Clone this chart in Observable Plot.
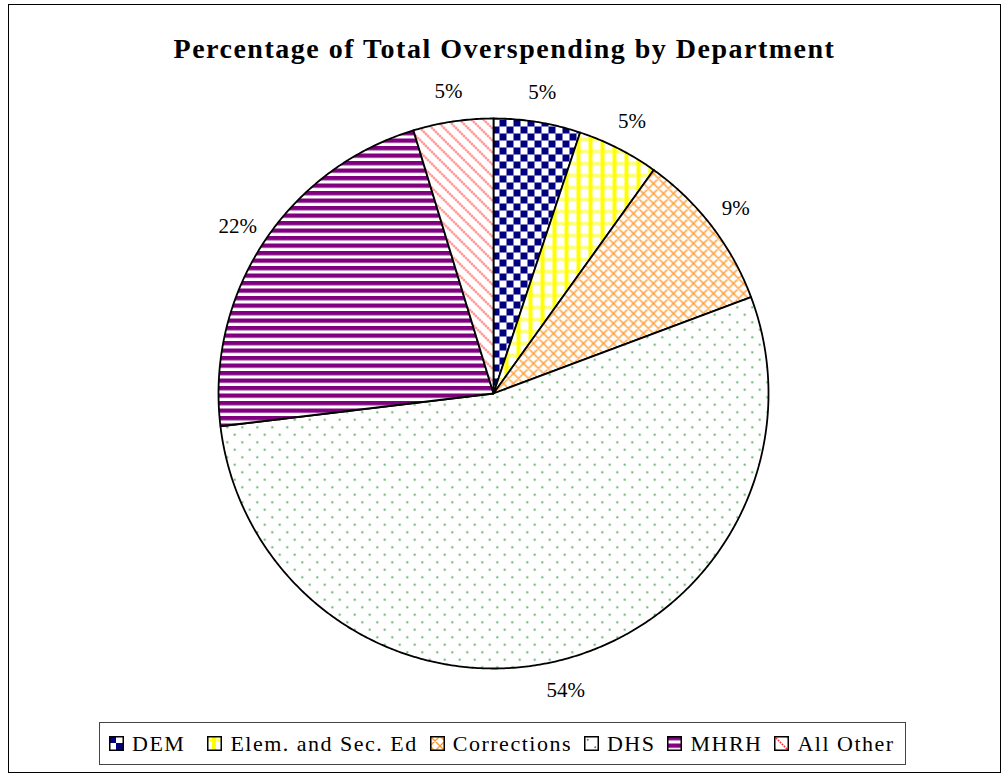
<!DOCTYPE html>
<html>
<head>
<meta charset="utf-8">
<script src="https://cdn.jsdelivr.net/npm/d3@7"></script>
<script src="https://cdn.jsdelivr.net/npm/@observablehq/plot@0.6"></script>
<style>
  html, body { margin: 0; padding: 0; background: #fff; }
  body { width: 1005px; height: 778px; position: relative; overflow: hidden; font-family: "Liberation Serif", "Times New Roman", serif; }
  #frame { position: absolute; left: 8px; top: 4px; width: 991px; height: 767px; border: 1.5px solid #000; box-sizing: content-box; }
  #title { position: absolute; left: 8px; width: 993px; top: 33px; text-align: center; font-weight: bold; font-size: 28px; letter-spacing: 1.5px; color: #000; font-family: "Liberation Serif", serif; }
  #chart { position: absolute; left: 163px; top: 63px; }
  #legend { position: absolute; left: 99px; top: 722px; width: 807px; height: 43px; border: 1.5px solid #444; display: flex; align-items: center; padding-left: 9px; box-sizing: border-box; font-size: 22px; letter-spacing: 1.5px; font-family: "Liberation Serif", serif; }
  .item { display: flex; align-items: center; margin-right: 12px; white-space: nowrap; }
  .item svg { margin-right: 8px; }
</style>
</head>
<body>
<svg width="0" height="0" style="position:absolute">
  <defs>
    <pattern id="p-dem" patternUnits="userSpaceOnUse" width="14" height="14">
      <rect width="14" height="14" fill="#fff"/>
      <rect x="0" y="0" width="7" height="7" fill="#000080"/>
      <rect x="7" y="7" width="7" height="7" fill="#000080"/>
    </pattern>
    <pattern id="p-elem" patternUnits="userSpaceOnUse" width="12" height="12">
      <rect width="12" height="12" fill="#fff"/>
      <rect x="0" y="2" width="12" height="4" fill="#ffff99"/>
      <rect x="1" y="3" width="1" height="1" fill="#ffff00"/>
      <rect x="3" y="4" width="1" height="1" fill="#ffff00"/>
      <rect x="9" y="3" width="1" height="1" fill="#ffff00"/>
      <rect x="11" y="4" width="1" height="1" fill="#ffff00"/>
      <rect x="5" y="0" width="4" height="12" fill="#ffff00"/>
    </pattern>
    <pattern id="p-corr" patternUnits="userSpaceOnUse" width="10" height="10">
      <rect width="10" height="10" fill="#fff"/>
      <path d="M0,0L10,10M10,0L0,10M-1,9L1,11M9,-1L11,1M-1,1L1,-1M9,11L11,9" stroke="#ff9a30" stroke-width="1.4"/>
    </pattern>
    <pattern id="p-dhs" patternUnits="userSpaceOnUse" width="15" height="15">
      <rect width="15" height="15" fill="#fff"/>
      <circle cx="3.75" cy="3.75" r="1" fill="#2e9a3a"/>
      <circle cx="11.25" cy="11.25" r="1" fill="#2e9a3a"/>
    </pattern>
    <pattern id="p-mhrh" patternUnits="userSpaceOnUse" width="7.5" height="7.5">
      <rect width="7.5" height="7.5" fill="#fff"/>
      <rect y="0" width="7.5" height="4" fill="#800080"/>
      <rect y="4" width="7.5" height="0.7" fill="#a050a0"/>
    </pattern>
    <pattern id="p-other" patternUnits="userSpaceOnUse" width="12" height="12">
      <rect width="12" height="12" fill="#fff"/>
      <path d="M0,0L12,12M-6,6L6,18M6,-6L18,6" stroke="#ff3030" stroke-width="1.7" stroke-dasharray="1.6 1.2"/>
    </pattern>
  </defs>
</svg>
<div id="frame"></div>
<div id="title">Percentage of Total Overspending by Department</div>
<div id="chart"></div>
<div id="legend"></div>
<script>
// Data
const departments = ["DEM", "Elem. and Sec. Ed", "Corrections", "DHS", "MHRH", "All Other"];
const shares = [5.1, 4.8, 9.4, 53.8, 22.2, 4.7];
const labels = ["5%", "5%", "9%", "54%", "22%", "5%"];
const patterns = ["url(#p-dem)", "url(#p-elem)", "url(#p-corr)", "url(#p-dhs)", "url(#p-mhrh)", "url(#p-other)"];

const rows = departments.map((d, i) => ({name: d, value: shares[i], label: labels[i]}));
const arcs = d3.pie().sort(null).value(d => d.value)(rows);

// Slice outlines in data space (unit radius), angle clockwise from north
const slicePts = [];
for (const a of arcs) {
  slicePts.push({name: a.data.name, x: 0, y: 0});
  const n = Math.max(2, Math.ceil((a.endAngle - a.startAngle) / (Math.PI / 360)));
  for (let k = 0; k <= n; k++) {
    const t = a.startAngle + (a.endAngle - a.startAngle) * k / n;
    slicePts.push({name: a.data.name, x: Math.sin(t), y: Math.cos(t)});
  }
}
const labelR = 1.11;
const labelPts = arcs.map(a => {
  const m = (a.startAngle + a.endAngle) / 2;
  return {label: a.data.label, x: labelR * Math.sin(m), y: labelR * Math.cos(m)};
});

const chart = Plot.plot({
  width: 660,
  height: 660,
  margin: 0,
  x: {domain: [-1.2, 1.2], axis: null},
  y: {domain: [-1.2, 1.2], axis: null},
  color: {domain: departments, range: patterns},
  marks: [
    Plot.line(slicePts, {x: "x", y: "y", z: "name", fill: "name", stroke: "#000", strokeWidth: 1.8, curve: "linear-closed", strokeLinejoin: "round"}),
    Plot.text(labelPts, {x: "x", y: "y", text: "label", fontSize: 21, fontFamily: "Liberation Serif", fill: "#000", letterSpacing: "1px"})
  ],
  style: {background: "transparent", overflow: "visible", fontFamily: "Liberation Serif"}
});
document.getElementById("chart").appendChild(chart);

// Legend
const legend = document.getElementById("legend");
departments.forEach((d, i) => {
  const it = document.createElement("div");
  it.className = "item";
  if (i === 0) it.style.marginRight = "22px";
  it.innerHTML = `<svg width="15" height="15"><rect x="0.75" y="0.75" width="13.5" height="13.5" fill="${patterns[i]}" stroke="#000" stroke-width="1.5"/></svg><span>${d}</span>`;
  legend.appendChild(it);
});
</script>
</body>
</html>
